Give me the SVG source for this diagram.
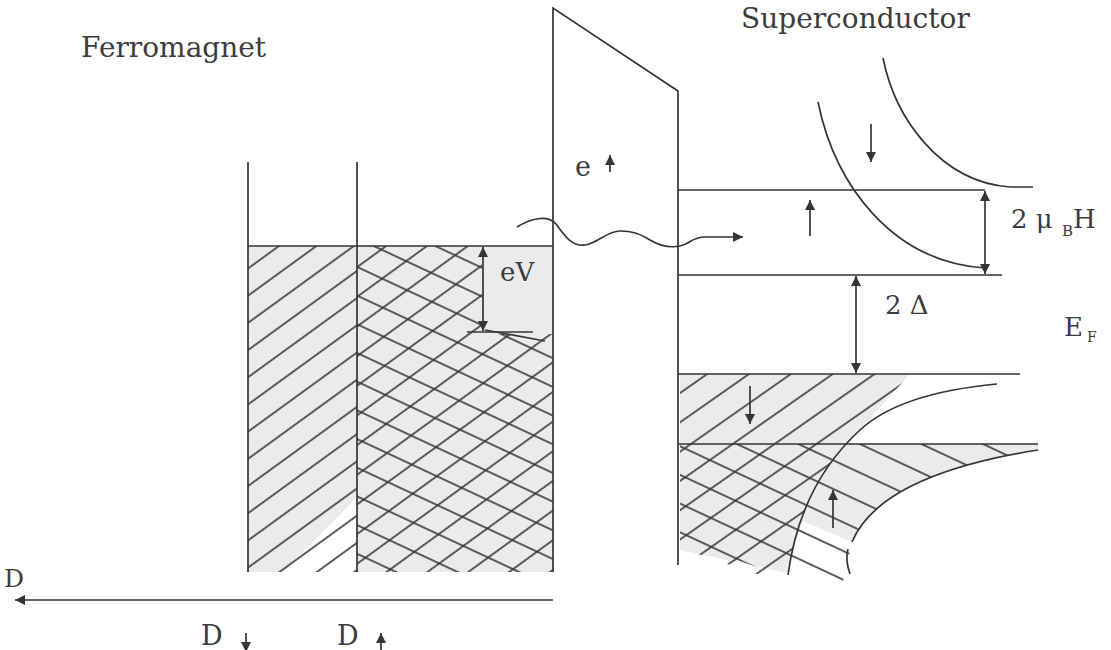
<svg xmlns="http://www.w3.org/2000/svg" width="1111" height="650" viewBox="0 0 1111 650">
<style>
.ln{stroke:#353535;stroke-width:1.7;fill:none}
.fl{fill:#ebebeb;stroke:none}
.txt{font-family:"DejaVu Serif","Liberation Serif",serif;fill:#3c3c3c}
.ar{stroke:#353535;stroke-width:1.7;fill:none;marker-end:url(#ah)}
.ar2{stroke:#353535;stroke-width:1.7;fill:none;marker-start:url(#ah);marker-end:url(#ah)}
</style>
<defs>
<pattern id="hUp" width="22" height="22" patternUnits="userSpaceOnUse" patternTransform="rotate(-36)"><line x1="-2" y1="11" x2="24" y2="11" stroke="#353535" stroke-width="1.6"/></pattern>
<pattern id="hUp2" width="24" height="24" patternUnits="userSpaceOnUse" patternTransform="rotate(-36) translate(0,6)"><line x1="-2" y1="12" x2="26" y2="12" stroke="#353535" stroke-width="1.6"/></pattern>
<pattern id="hDn" width="26" height="26" patternUnits="userSpaceOnUse" patternTransform="rotate(25)"><line x1="-2" y1="13" x2="28" y2="13" stroke="#353535" stroke-width="1.6"/></pattern>
<pattern id="hUpS" width="24" height="24" patternUnits="userSpaceOnUse" patternTransform="rotate(-35) translate(0,4)"><line x1="-2" y1="12" x2="26" y2="12" stroke="#353535" stroke-width="1.6"/></pattern>
<marker id="ah" viewBox="0 0 10 10" refX="10" refY="5" markerWidth="11" markerHeight="10" markerUnits="userSpaceOnUse" orient="auto-start-reverse"><path d="M0,0 L10,5 L0,10 Z" fill="#353535"/></marker>
<clipPath id="cL"><rect x="248" y="246" width="109" height="326"/></clipPath>
<clipPath id="cR"><polygon points="357,246 482,246 482,334 553,334 553,572 357,572"/></clipPath>
<clipPath id="cSup"><path d="M680,374 L910,374 L847,444 L860,430 Q800,485 788,575 L760,575 L680,548 Z"/></clipPath>
<clipPath id="cSdn"><path d="M680,444 L1038,444 L1038,450 Q880,475 852,542 L840,596 L680,540 Z"/></clipPath>
</defs>

<g id="ferromagnet">
  <polygon class="fl" points="248,246 357,246 357,497 283,572 248,572"/>
  <rect class="fl" x="357" y="246" width="196" height="326"/>
  <rect x="248" y="246" width="109" height="326" fill="url(#hUp)" clip-path="url(#cL)"/>
  <rect x="357" y="246" width="196" height="326" fill="url(#hUp2)" clip-path="url(#cR)"/>
  <rect x="357" y="246" width="196" height="326" fill="url(#hDn)" clip-path="url(#cR)"/>
  <line class="ln" x1="248" y1="162" x2="248" y2="572"/>
  <line class="ln" x1="357" y1="162" x2="357" y2="572"/>
  <line class="ln" x1="248" y1="246" x2="553" y2="246"/>
  <line class="ln" x1="467" y1="332" x2="533" y2="332"/>
  <line class="ln" x1="485" y1="330" x2="545" y2="341"/>
  <text class="txt" x="81" y="57" font-size="28">Ferromagnet</text>
</g>

<g id="barrier">
  <path class="ln" d="M553,572 L553,8 L678,91 L678,565"/>
  <text class="txt" x="575" y="176" font-size="27">e</text>
  <line class="ar" x1="610" y1="172" x2="610" y2="155"/>
</g>

<g id="superconductor">
  <path class="fl" d="M680,374 L910,374 L847,444 L680,444 Z"/>
  <path class="fl" d="M680,444 L1038,444 L1038,450 Q880,475 852,542 L803,521 Q792,545 788,573 L680,550 Z"/>
  <rect x="680" y="374" width="240" height="210" fill="url(#hUpS)" clip-path="url(#cSup)"/>
  <rect x="680" y="444" width="360" height="160" fill="url(#hDn)" clip-path="url(#cSdn)"/>
  <line class="ln" x1="678" y1="190" x2="985" y2="190"/>
  <line class="ln" x1="678" y1="275" x2="1002" y2="275"/>
  <line class="ln" x1="678" y1="374" x2="1020" y2="374"/>
  <line class="ln" x1="678" y1="444" x2="1038" y2="444"/>
  <path class="ln" d="M883,58 C895,118 940,182 1010,187 L1033,187"/>
  <path class="ln" d="M818,102 C835,185 892,262 985,268"/>
  <path class="ln" d="M997,384 Q900,393 860,430 Q800,485 788,575"/>
  <path class="ln" d="M1038,450 Q880,475 852,542"/>
  <path class="ln" d="M848,549 Q845,560 850,574"/>
  <text class="txt" x="741" y="28" font-size="28">Superconductor</text>
</g>

<g id="connectors">
  <path class="ar" d="M517,227 C530,219 547,214 556,224 C565,236 572,247 585,245 C598,243 607,231 620,231 C633,231 640,234 650,240 C660,246 670,248 680,246 C690,244 692,237 705,237 L743,237"/>
  <line class="ar2" x1="483" y1="247" x2="483" y2="331"/>
  <line class="ar2" x1="985" y1="191" x2="985" y2="274"/>
  <line class="ar2" x1="856" y1="276" x2="856" y2="373"/>
  <line class="ar" x1="871" y1="124" x2="871" y2="162"/>
  <line class="ar" x1="810" y1="236" x2="810" y2="200"/>
  <line class="ar" x1="750" y1="386" x2="750" y2="424"/>
  <line class="ar" x1="833" y1="528" x2="833" y2="490"/>
  <line class="ar" x1="553" y1="600" x2="15" y2="600"/>
  <line class="ar" x1="246" y1="633" x2="246" y2="652"/>
  <line class="ar" x1="381" y1="653" x2="381" y2="633"/>
</g>

<g id="labels">
  <text class="txt" x="500" y="281" font-size="26">eV</text>
  <text class="txt" x="1011" y="228" font-size="26">2 μ</text>
  <text class="txt" x="1062" y="236" font-size="15">B</text>
  <text class="txt" x="1073" y="228" font-size="26">H</text>
  <text class="txt" x="885" y="314" font-size="26">2 Δ</text>
  <text class="txt" x="1064" y="336" font-size="26">E</text>
  <text class="txt" x="1087" y="342" font-size="14">F</text>
  <text class="txt" x="4" y="587" font-size="25">D</text>
  <text class="txt" x="201" y="645" font-size="27">D</text>
  <text class="txt" x="337" y="645" font-size="27">D</text>
</g>
</svg>
